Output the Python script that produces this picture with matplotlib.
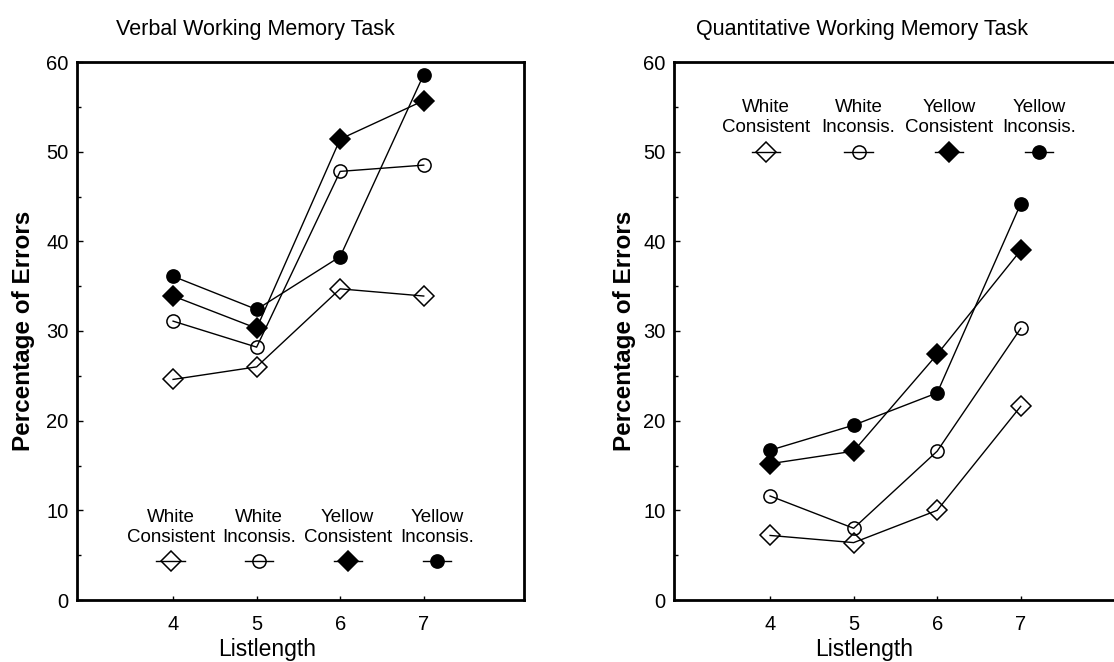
import numpy as np
import matplotlib.pyplot as plt
from matplotlib.ticker import MultipleLocator

plt.rcParams['font.family'] = ['Liberation Sans', 'DejaVu Sans']

# list lengths on the x axis
listlength = [4, 5, 6, 7]

# verbal working memory task, percentage of errors
verbal_white_cons = [24.6, 26.0, 34.7, 33.9]
verbal_white_incons = [31.1, 28.2, 47.8, 48.5]
verbal_yellow_cons = [33.9, 30.3, 51.4, 55.7]
verbal_yellow_incons = [36.1, 32.4, 38.3, 58.6]

# quantitative working memory task, percentage of errors
quant_white_cons = [7.2, 6.4, 10.0, 21.6]
quant_white_incons = [11.6, 8.0, 16.6, 30.3]
quant_yellow_cons = [15.2, 16.6, 27.4, 39.0]
quant_yellow_incons = [16.7, 19.5, 23.1, 44.2]

legend_labels = ['White\nConsistent', 'White\nInconsis.', 'Yellow\nConsistent', 'Yellow\nInconsis.']

# marker styles: (marker, size, filled)
styles = [('D', 10.5, False), ('o', 9.5, False), ('D', 10.5, True), ('o', 9.5, True)]


def draw_panel(ax, series, title, title_x, legend_x, legend_y, ylabel_x):

    for vals, (mk, ms, filled) in zip(series, styles):
        ax.plot(listlength, vals, color='black', lw=1.0, marker=mk, ms=ms,
                mfc='black' if filled else 'none', mec='black', mew=1.1)

    ax.set_xlim(2.85, 8.2)
    ax.set_ylim(0, 60)

    ax.set_xticks(listlength)
    ax.yaxis.set_major_locator(MultipleLocator(10))
    ax.yaxis.set_minor_locator(MultipleLocator(5))
    ax.tick_params(axis='y', which='major', direction='in', length=4, width=1, labelsize=14.5, pad=6)
    ax.tick_params(axis='y', which='minor', direction='in', length=3, width=1)
    ax.tick_params(axis='x', which='major', direction='in', length=3, width=1, labelsize=14.5, pad=11)

    for sp in ax.spines.values():
        sp.set_linewidth(2)

    ax.set_ylabel('Percentage of Errors', fontsize=17.5, fontweight='bold')
    ax.yaxis.set_label_coords(ylabel_x, 0.5)
    ax.set_xlabel('Listlength', fontsize=16.5)
    ax.xaxis.set_label_coords(0.425, -0.07)

    ax.text(title_x, 1.06, title, transform=ax.transAxes, ha='center', va='center', fontsize=15.5)

    # legend: label text above a marker with a short line through it
    half = 0.17
    for i, (lab, (mk, ms, filled)) in enumerate(zip(legend_labels, styles)):
        lx = legend_x[i]
        ax.plot([lx - half, lx + half], [legend_y, legend_y], color='black', lw=1.0)
        ax.plot(lx, legend_y, marker=mk, ms=ms, color='black',
                mfc='black' if filled else 'none', mec='black', mew=1.1)
        ax.text(lx, legend_y + 1.7, lab, ha='center', va='bottom', fontsize=13.5, linespacing=1.25)


fig = plt.figure(figsize=(11.14, 6.62), dpi=100)

ax1 = fig.add_axes([77 / 1114, 62 / 662, 447 / 1114, 538 / 662])
ax2 = fig.add_axes([674 / 1114, 62 / 662, 447 / 1114, 538 / 662])

draw_panel(ax1, [verbal_white_cons, verbal_white_incons, verbal_yellow_cons, verbal_yellow_incons],
           'Verbal Working Memory Task', 0.40,
           [3.97, 5.03, 6.09, 7.16], 4.3, -0.093)

draw_panel(ax2, [quant_white_cons, quant_white_incons, quant_yellow_cons, quant_yellow_incons],
           'Quantitative Working Memory Task', 0.42,
           [3.95, 5.06, 6.14, 7.22], 50.0, -0.084)

fig.savefig('out.png', dpi=100)
